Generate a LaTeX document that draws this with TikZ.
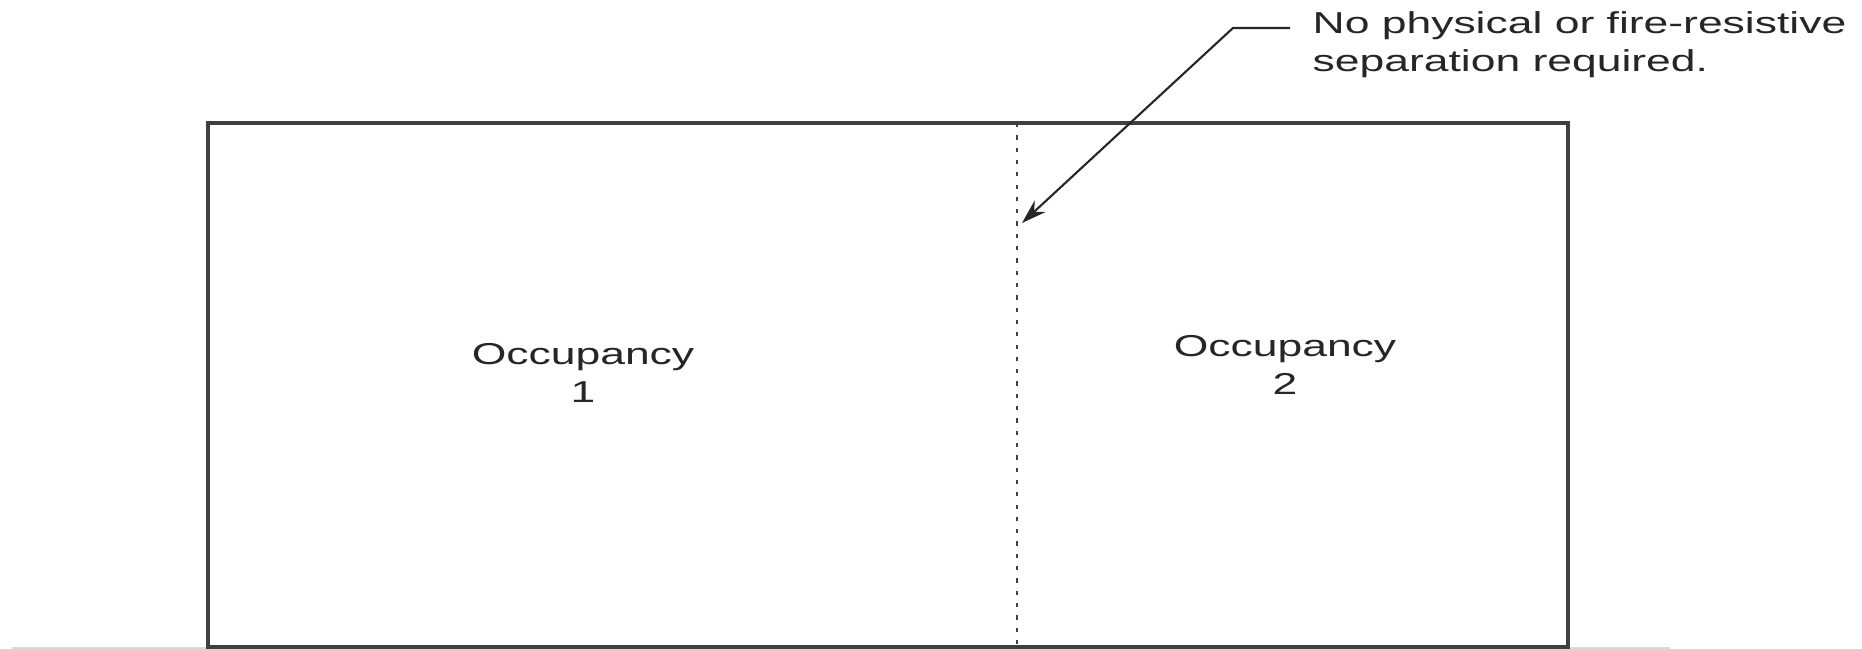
\documentclass[tikz,border=0pt]{standalone}
\usepackage{fontspec}
\setmainfont{Liberation Sans}[FakeStretch=1.47]
\usetikzlibrary{arrows.meta}

\begin{document}
\begin{tikzpicture}[x=0.01cm,y=0.01cm]
    \tikzstyle{wall}=[draw=black!75,line width=0.9pt]
    \tikzstyle{open wall}=[draw=black!75,line width=0.45pt,dash pattern=on 1.2pt off 2.3pt]
    \tikzstyle{room text}=[align=center,inner sep=0pt,font=\fontsize{8.6}{10.9}\selectfont,text=black!85]
    \tikzstyle{note text}=[room text,align=left,inner xsep=0.22cm]
    \tikzstyle{leader}=[draw=black!85,line width=0.6pt,-{Stealth[length=7pt,width=4.5pt]}]

    \useasboundingbox (0,0) rectangle (1862,649);

    % Draw the ground line and the outer walls
    \draw[black!15,line width=0.3pt] (12,1) -- (1670,1);
    \coordinate (SW) at (208,2);
    \coordinate (NE) at (1568,526);
    \draw[wall] (SW) rectangle (NE);

    % The line between the two occupancies
    \coordinate (B-top) at (1017,526);
    \coordinate (B-bot) at (1017,2);
    \draw[open wall] (B-top) -- (B-bot);

    % Name the occupancies (base is the last line)
    \node[room text,anchor=base] (O-1) at (583,246) {Occupancy\\1};
    \node[room text,anchor=base] (O-2) at (1285,254) {Occupancy\\2};

    % Annotate the line
    \node[note text,anchor=base west] (note) at (1290,577) {No physical or fire-resistive\\separation required.};
    \coordinate (kink) at (1233,621);
    \coordinate (tip) at (1022,426);
    \draw[leader] (kink -| note.west) -- (kink) -- (tip);
\end{tikzpicture}
\end{document}
